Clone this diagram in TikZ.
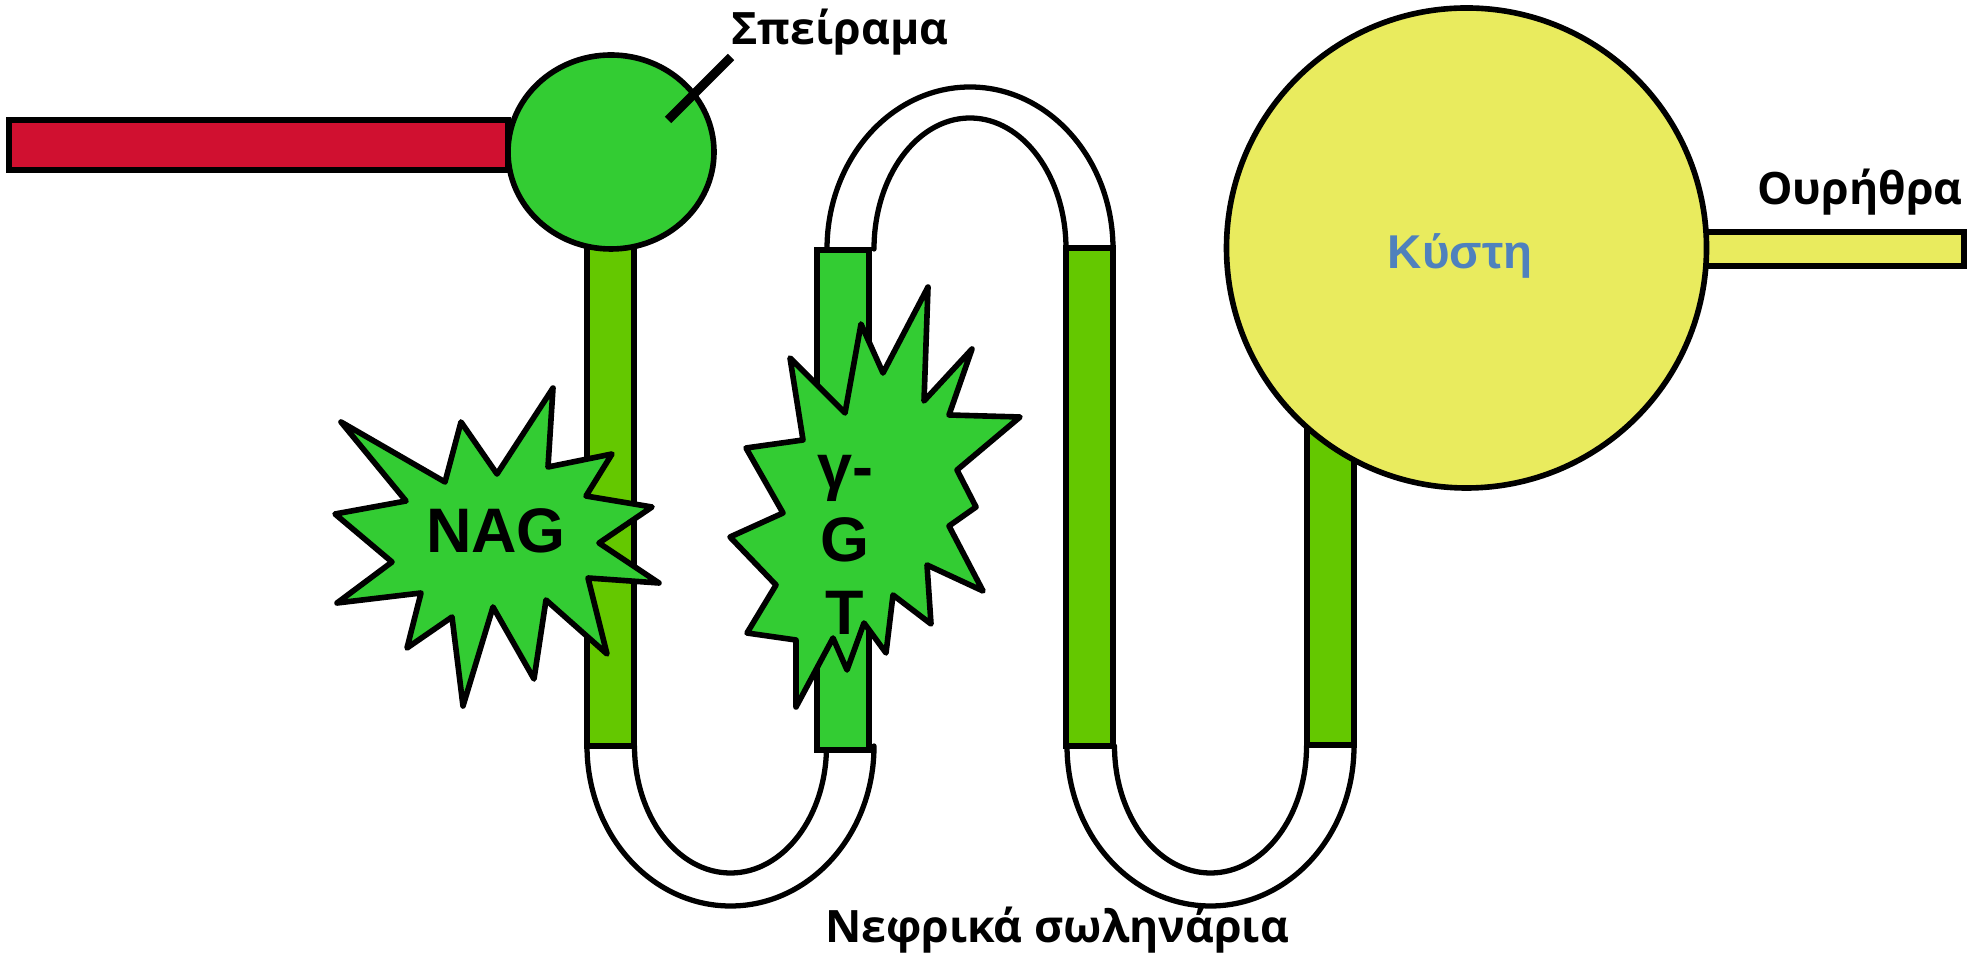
\documentclass[tikz,border=0pt]{standalone}
\usepackage{fontspec}
\setmainfont{Liberation Sans}
\newfontfamily\captionfont{Open Sans}
\usetikzlibrary{positioning}
\definecolor{artery}{RGB}{208,16,48}
\definecolor{glom}{RGB}{51,204,51}
\definecolor{tubule}{RGB}{100,200,0}
\definecolor{bladder}{RGB}{233,235,94}
\definecolor{bladdertext}{RGB}{79,129,189}

\begin{document}
\begin{tikzpicture}[
        x=0.1mm, y=0.1mm,
        outline/.style={line width=1.6pt,black},
        tube/.style={outline,fill=tubule},
        loopline/.style={line width=1.5pt,line cap=round},
        burst/.style={outline,fill=glom,line join=round},
        enzyme/.style={font=\fontsize{17.9}{20.8}\selectfont\bfseries,align=center},
        caption/.style={font=\captionfont\bfseries\fontsize{12.7}{15}\selectfont,anchor=base}
    ]
    \useasboundingbox (0,0) rectangle (1988,-953);

    % loops of the tubule
    \foreach \cx in {730.5,1210.5} {
        \draw [loopline] (\cx-143.5,-746) arc[start angle=180,end angle=360,x radius=143.5,y radius=160];
        \draw [loopline] (\cx-96,-746) arc[start angle=180,end angle=360,x radius=96,y radius=127];
    }
    \draw [loopline] (827,-249) arc[start angle=180,end angle=0,x radius=143,y radius=162];
    \draw [loopline] (874,-249) arc[start angle=180,end angle=0,x radius=96,y radius=131];

    % straight parts
    \draw [tube] (587,-240) rectangle (634,-746);
    \draw [tube,fill=glom] (817,-250) rectangle (869,-750);
    \draw [tube] (1066,-248) rectangle (1113,-746);
    \draw [tube] (1307,-400) rectangle (1354,-745);

    % artery and glomerulus
    \draw [outline,fill=artery] (9,-120) rectangle (508,-170);
    \draw [outline,fill=glom] (611,-152) ellipse (103 and 97);
    \draw [line width=0.9mm] (668,-120) -- (731,-57);

    % bladder and urethra
    \draw [outline,fill=bladder] (1706,-232) rectangle (1964,-266);
    \draw [outline,fill=bladder] (1466.5,-248) circle (240);

    % enzyme bursts
    \draw [burst] (341,-422) -- (445,-482) -- (461,-422) -- (497,-474) -- (553,-388)
        -- (548,-467) -- (612,-454) -- (586,-496) -- (652,-507) -- (599,-543)
        -- (659,-583) -- (588,-578) -- (607,-654) -- (546,-600) -- (534,-679)
        -- (493,-607) -- (463,-706) -- (452,-617) -- (407,-648) -- (421,-593)
        -- (337,-603) -- (392,-562) -- (335,-514) -- (406,-501) -- cycle;
    \draw [burst] (790,-358) -- (845,-413) -- (861,-324) -- (883,-373) -- (928,-287)
        -- (924,-401) -- (972,-349) -- (949,-415) -- (1020,-417) -- (957,-470)
        -- (976,-507) -- (949,-526) -- (983,-591) -- (927,-565) -- (931,-624)
        -- (893,-595) -- (886,-653) -- (864,-623) -- (847,-670) -- (833,-638)
        -- (796,-707) -- (796,-640) -- (747,-633) -- (776,-585) -- (730,-537)
        -- (783,-513) -- (746,-448) -- (803,-440) -- cycle;

    \node [enzyme] (nag) at (496,-531) {NAG};
    \node [enzyme] (ggt) at (845,-545) {γ-\\G\\T};
    \node [font=\fontsize{13.5}{16}\selectfont\bfseries,text=bladdertext,anchor=base] (kysti) at (1460,-269) {Κύστη};

    \node [caption] (speirama) at (840,-45) {Σπείραμα};
    \node [caption] (ourithra) at (1860,-205) {Ουρήθρα};
    \node [caption] (solinaria) at (1057,-942) {Νεφρικά σωληνάρια};
\end{tikzpicture}
\end{document}
